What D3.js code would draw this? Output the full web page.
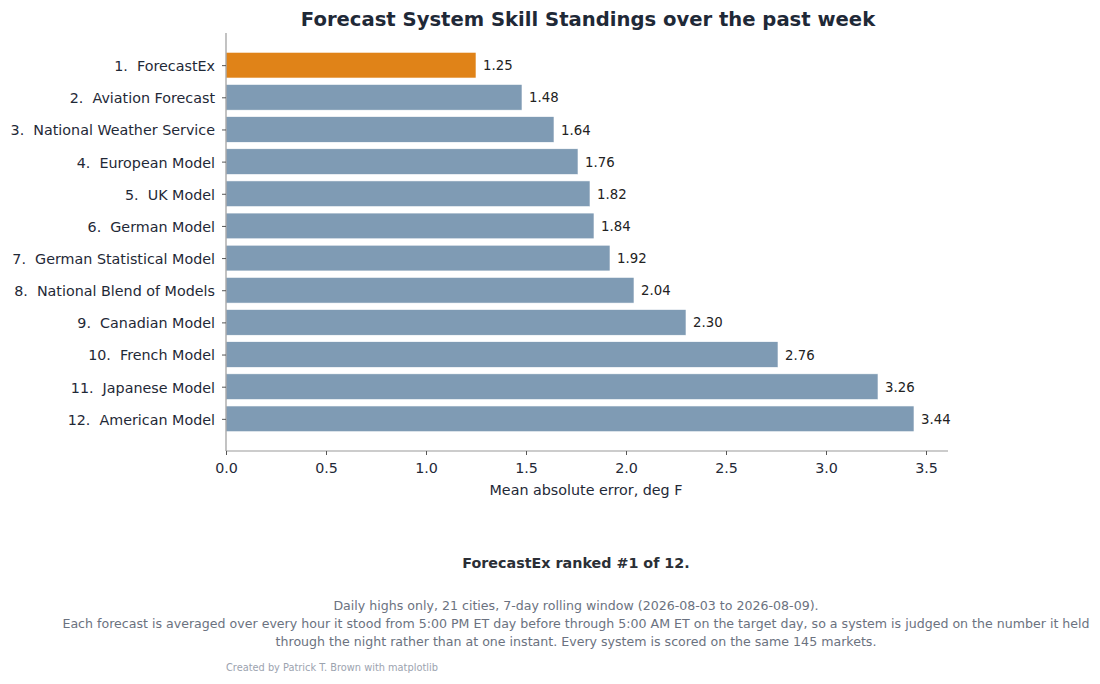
<!DOCTYPE html>
<html><head><meta charset="utf-8">
<script src="https://cdn.jsdelivr.net/npm/d3@7"></script>
<style>
body{margin:0;background:#fff;}
svg text{font-family:"DejaVu Sans",sans-serif;}
</style></head>
<body><svg id="c" width="1100" height="684"></svg>
<script>
const systems = ["ForecastEx","Aviation Forecast","National Weather Service","European Model","UK Model","German Model","German Statistical Model","National Blend of Models","Canadian Model","French Model","Japanese Model","American Model"];
const maeValues = [1.25,1.48,1.64,1.76,1.82,1.84,1.92,2.04,2.30,2.76,3.26,3.44];
const xTicks = [0,0.5,1.0,1.5,2.0,2.5,3.0,3.5];
const highlight = "ForecastEx";

(function(){
const svg = d3.select("#c");
const mL = 226, mR = 948, mT = 33, mB = 451;
const x = d3.scaleLinear().domain([0, 3.61]).range([mL, mR]);
const y = d3.scaleLinear().domain([-1, systems.length]).range([mT, mB]);
const dark = "#1f2937", spine = "#9a9a9a";
const barH = y(0.8) - y(0);

svg.append("text").attr("x", 588).attr("y", 26).attr("text-anchor","middle")
  .attr("font-size", 19.6).attr("font-weight","bold").attr("fill", dark)
  .text("Forecast System Skill Standings over the past week");

const g = svg.append("g");
g.selectAll("rect").data(maeValues).join("rect")
  .attr("x", x(0)).attr("y", (d,i)=>y(i)-barH/2)
  .attr("width", d=>x(d)-x(0)).attr("height", barH)
  .attr("fill", (d,i)=>systems[i]===highlight ? "#E08318" : "#7F9BB4")
  .attr("stroke","#ffffff").attr("stroke-width",0.6);

g.selectAll("text.val").data(maeValues).join("text").attr("class","val")
  .attr("x", d=>x(d)+7).attr("y", (d,i)=>y(i)).attr("dy","0.38em")
  .attr("font-size", 13.3).attr("fill","#222")
  .text(d=>d.toFixed(2));

const yAxis = d3.axisLeft(y).tickValues(d3.range(systems.length))
  .tickFormat(i=>`${i+1}.\u00a0\u00a0${systems[i]}`).tickSize(4).tickPadding(7);
const ya = svg.append("g").attr("transform",`translate(${mL},0)`).call(yAxis);
ya.select(".domain").attr("stroke", spine).attr("d", `M0,${mT}V${mB}`).attr("stroke-width",1.2);
ya.selectAll(".tick line").attr("stroke","#555");
ya.selectAll(".tick text").attr("font-size",14.3).attr("fill",dark).attr("dy","0.38em");

const xAxis = d3.axisBottom(x).tickValues(xTicks).tickFormat(d3.format(".1f")).tickSize(4).tickPadding(8);
const xa = svg.append("g").attr("transform",`translate(0,${mB})`).call(xAxis);
xa.select(".domain").attr("stroke", spine).attr("d", `M${mL},0H${mR}`).attr("stroke-width",1.2);
xa.selectAll(".tick line").attr("stroke","#555");
xa.selectAll(".tick text").attr("font-size",14.3).attr("fill",dark);

svg.append("text").attr("x", (mL+mR)/2 - 1).attr("y", 495).attr("text-anchor","middle")
  .attr("font-size",14.3).attr("fill",dark).text("Mean absolute error, deg F");

svg.append("text").attr("x",576).attr("y",568).attr("text-anchor","middle")
  .attr("font-size",14.3).attr("font-weight","bold").attr("fill","#2b2f36")
  .text("ForecastEx ranked #1 of 12.");
const notes = ["Daily highs only, 21 cities, 7-day rolling window (2026-08-03 to 2026-08-09).",
 "Each forecast is averaged over every hour it stood from 5:00 PM ET day before through 5:00 AM ET on the target day, so a system is judged on the number it held",
 "through the night rather than at one instant. Every system is scored on the same 145 markets."];
svg.selectAll("text.note").data(notes).join("text").attr("class","note")
  .attr("x",576).attr("y",(d,i)=>610+i*18).attr("text-anchor","middle")
  .attr("font-size",12.6).attr("fill","#6b7280").text(d=>d);
svg.append("text").attr("x",226).attr("y",671).attr("font-size",9.8).attr("fill","#9ca3af")
  .text("Created by Patrick T. Brown with matplotlib");
})();
</script></body></html>
